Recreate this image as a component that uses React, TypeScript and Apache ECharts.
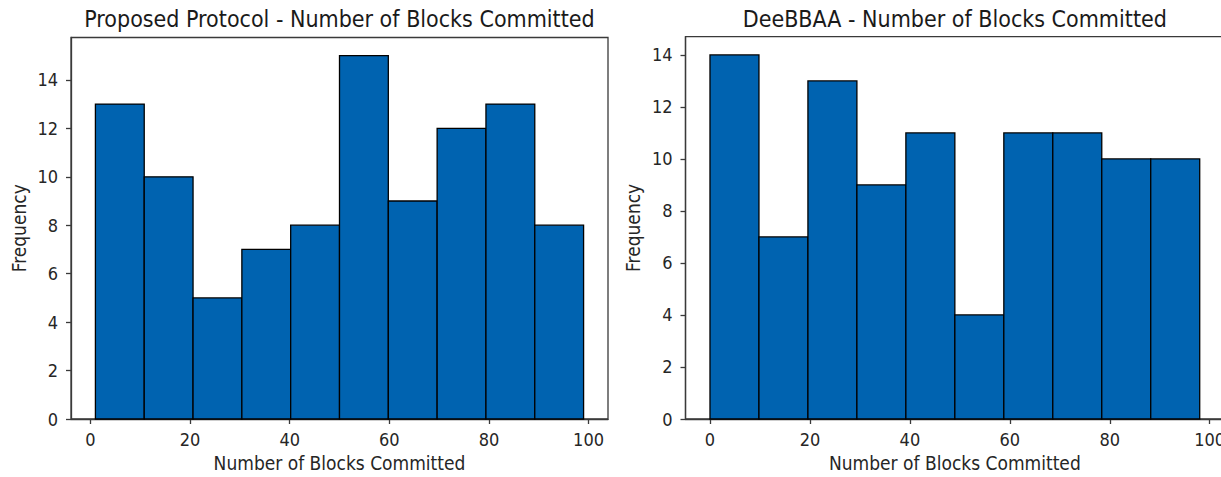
import React, { useEffect, useRef } from "react";
import * as echarts from "echarts";

const leftTitle = "Proposed Protocol - Number of Blocks Committed";
const rightTitle = "DeeBBAA - Number of Blocks Committed";
const xName = "Number of Blocks Committed";
const yName = "Frequency";

const leftEdges = [1, 10.8, 20.6, 30.4, 40.2, 50, 59.8, 69.6, 79.4, 89.2, 99];
const leftCounts = [13, 10, 5, 7, 8, 15, 9, 12, 13, 8];
const rightEdges = [0, 9.8, 19.6, 29.4, 39.2, 49, 58.8, 68.6, 78.4, 88.2, 98];
const rightCounts = [14, 7, 13, 9, 11, 4, 11, 11, 10, 10];

const xTicks = [0, 20, 40, 60, 80, 100];
const yTicks = [0, 2, 4, 6, 8, 10, 12, 14];

const FONT = "'DejaVu Sans Condensed', 'DejaVu Sans', sans-serif";
const BAR = "#0063B0";
const INK = "#262626";
const AXIS = "#3a3a3a";

function histData(edges: number[], counts: number[]) {
  return counts.map((c, i) => [edges[i], edges[i + 1], c]);
}

function renderItem(params: any, api: any) {
  const x0 = api.value(0);
  const x1 = api.value(1);
  const y = api.value(2);
  const p0 = api.coord([x0, y]);
  const p1 = api.coord([x1, 0]);
  return {
    type: "rect",
    shape: { x: p0[0], y: p0[1], width: p1[0] - p0[0], height: p1[1] - p0[1] },
    style: { fill: BAR, stroke: "#000", lineWidth: 1.3 },
  };
}

function xAxisCfg(gridIndex: number, min: number, max: number) {
  return {
    gridIndex,
    type: "value",
    min,
    max,
    axisLine: { show: true, onZero: false, lineStyle: { color: AXIS, width: 1.3 } },
    axisTick: { show: true, length: 5, customValues: xTicks, lineStyle: { color: AXIS, width: 1.3 } },
    axisLabel: { customValues: xTicks, margin: 11, fontSize: 18, fontFamily: FONT, color: INK },
    splitLine: { show: false },
    name: xName,
    nameLocation: "middle",
    nameGap: 34,
    nameTextStyle: { fontSize: 19, fontFamily: FONT, color: INK },
  };
}

function yAxisCfg(gridIndex: number, max: number) {
  return {
    gridIndex,
    type: "value",
    min: 0,
    max,
    axisLine: { show: true, onZero: false, lineStyle: { color: AXIS, width: 1.3 } },
    axisTick: { show: true, length: 5, customValues: yTicks, lineStyle: { color: AXIS, width: 1.3 } },
    axisLabel: { customValues: yTicks, margin: 13, fontSize: 18, fontFamily: FONT, color: INK },
    splitLine: { show: false },
    name: yName,
    nameLocation: "middle",
    nameGap: 43,
    nameTextStyle: { fontSize: 19, fontFamily: FONT, color: INK },
  };
}

export default function App() {
  const ref = useRef<HTMLDivElement>(null);
  useEffect(() => {
    if (!ref.current) return;
    const chart = echarts.init(ref.current, undefined, { renderer: "svg" });
    chart.setOption({
      animation: false,
      backgroundColor: "#fff",
      grid: [
        { left: 71, top: 37.5, width: 537, height: 383.5, show: true, borderColor: AXIS, borderWidth: 1.3, containLabel: false },
        { left: 685.5, top: 36.7, width: 538.7, height: 384.3, show: true, borderColor: AXIS, borderWidth: 1.3, containLabel: false },
      ],
      xAxis: [xAxisCfg(0, -3.9, 103.9), xAxisCfg(1, -4.9, 102.9)],
      yAxis: [yAxisCfg(0, 15.75), yAxisCfg(1, 14.7)],
      graphic: [
        { type: "text", x: 339.5, y: 19, style: { text: leftTitle, textAlign: "center", textVerticalAlign: "middle", fontSize: 23, fontFamily: FONT, fill: "#1a1a1a" } },
        { type: "text", x: 954.8, y: 19, style: { text: rightTitle, textAlign: "center", textVerticalAlign: "middle", fontSize: 23, fontFamily: FONT, fill: "#1a1a1a" } },
      ],
      series: [
        { type: "custom", xAxisIndex: 0, yAxisIndex: 0, renderItem, encode: { x: [0, 1], y: 2 }, data: histData(leftEdges, leftCounts) },
        { type: "custom", xAxisIndex: 1, yAxisIndex: 1, renderItem, encode: { x: [0, 1], y: 2 }, data: histData(rightEdges, rightCounts) },
      ],
    });
    return () => chart.dispose();
  }, []);
  return <div ref={ref} style={{ position: "fixed", left: 0, top: 0, width: 1240, height: 477, background: "#fff" }} />;
}
